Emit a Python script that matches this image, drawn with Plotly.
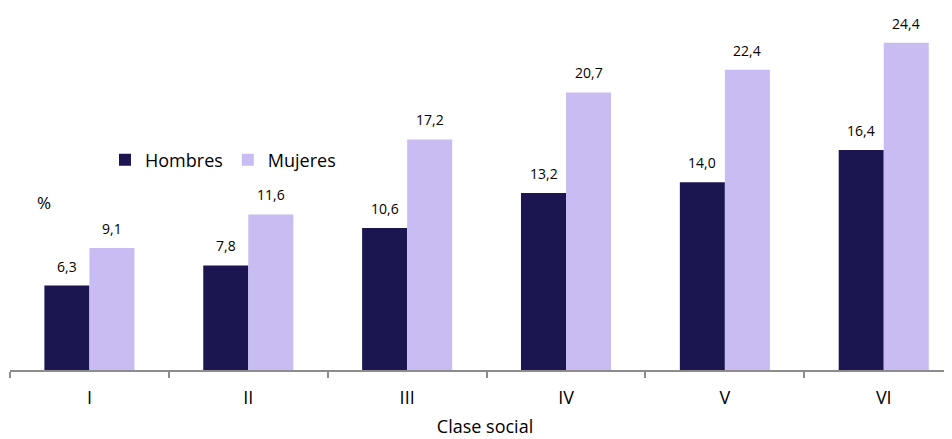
import plotly.graph_objects as go

# Datos
clases = ['I', 'II', 'III', 'IV', 'V', 'VI']
hombres = [6.3, 7.8, 10.6, 13.2, 14.0, 16.4]
mujeres = [9.1, 11.6, 17.2, 20.7, 22.4, 24.4]

COLOR_HOMBRES = '#1b1550'
COLOR_MUJERES = '#c9bcf2'
FUENTE = 'Open Sans, Noto Sans, sans-serif'


def etiqueta(v):
    return f"{v:.1f}".replace('.', ',')


fig = go.Figure()
fig.add_trace(go.Bar(x=clases, y=hombres, name='Hombres',
                     marker=dict(color=COLOR_HOMBRES, line=dict(width=0))))
fig.add_trace(go.Bar(x=clases, y=mujeres, name='Mujeres',
                     marker=dict(color=COLOR_MUJERES, line=dict(width=0))))

# Etiquetas de valor sobre cada barra
for i, c in enumerate(clases):
    for v, dx in ((hombres[i], -22.5), (mujeres[i], 22.5)):
        fig.add_annotation(x=c, y=v, text=etiqueta(v), showarrow=False,
                           xshift=dx, yshift=8, yanchor='bottom',
                           font=dict(size=14, color='#000000', family=FUENTE))

fig.add_annotation(x=0.026, y=0.465, xref='paper', yref='paper', text='%',
                   showarrow=False, font=dict(size=17, color='#000000', family=FUENTE))

# el navegador deja 8 px de margen en el body, se compensa aquí
fig.update_layout(
    width=952, height=439,
    margin=dict(l=2, r=0, t=2, b=77),
    paper_bgcolor='white', plot_bgcolor='white',
    barmode='group', bargap=0.433, bargroupgap=0,
    font=dict(family=FUENTE, color='#000000'),
    legend=dict(orientation='h', x=0.1, y=0.583, xanchor='left',
                yanchor='middle', font=dict(size=18, family=FUENTE), itemwidth=30,
                bgcolor='rgba(0,0,0,0)'),
)
fig.update_xaxes(range=[-0.5, 5.48], showline=True, linecolor='#8c8c8c',
                 linewidth=1.5, ticks='outside', tickson='boundaries',
                 ticklen=6, tickcolor='#8c8c8c', tickwidth=1.5,
                 ticklabelstandoff=11,
                 tickfont=dict(size=18, family=FUENTE),
                 title=dict(text='Clase social', font=dict(size=18, family=FUENTE),
                            standoff=12))
fig.update_yaxes(range=[0, 26.85], visible=False, showgrid=False)

fig.write_html("out.html")
